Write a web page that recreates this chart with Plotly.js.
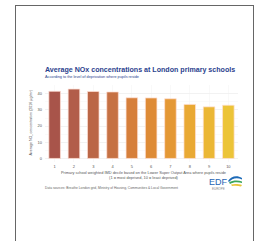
<!DOCTYPE html>
<html><head><meta charset="utf-8">
<script src="https://cdn.plot.ly/plotly-3.0.1.min.js"></script>
<style>
html,body{margin:0;padding:0;background:#fff;overflow:hidden;}
#frame{position:absolute;left:15px;top:5px;width:239px;height:260px;border:1px solid #666;box-sizing:border-box;pointer-events:none;z-index:5;}
#chart{position:absolute;left:0;top:0;width:258px;height:241px;}
#logo{position:absolute;left:227px;top:175px;z-index:4;}
</style></head>
<body>
<div id="chart"></div>
<div id="frame"></div>
<svg id="logo" width="16" height="13" viewBox="0 0 16 13">
  <path d="M1 6 C4 1,10 0,15 3 L15 4.5 C10 2,5 3,2 7 Z" fill="#1e6bb8"/>
  <path d="M2 7.5 C6 5,11 5,15 6.5 L15 8 C11 7,6 7,3 9 Z" fill="#3aa65a"/>
  <path d="M4 9.5 C8 8.5,12 9,15 10 L14 11.5 C11 10.5,8 10.5,5 11 Z" fill="#e8c43a"/>
</svg>
<script>
const deciles = ["1","2","3","4","5","6","7","8","9","10"];
const no2Values = [41.5, 42.9, 41.4, 41.1, 37.5, 37.4, 36.9, 33.4, 31.9, 32.9];
const barColors = ["#a8544a","#b25d4a","#bb6646","#c67143","#d67f3b","#de8b36","#e49835","#e9a934","#ebb735","#ecc438"];
const yTicks = [0, 10, 20, 30, 40];

const fontFam = "Liberation Sans, Arial, sans-serif";
const plotL = 45, plotR = 238.4, plotT = 85, plotB = 162.2;
const px = p => (p - plotL) / (plotR - plotL);
const py = p => (plotB - p) / (plotB - plotT);

const trace = {
  type: "bar",
  x: deciles,
  y: no2Values,
  marker: {color: barColors, line: {color: "rgba(255,225,215,0.9)", width: 0.8}},
  hoverinfo: "skip"
};

const layout = {
  width: 258, height: 241,
  margin: {l: plotL, r: 258 - plotR, t: plotT, b: 241 - plotB},
  paper_bgcolor: "#fff", plot_bgcolor: "#fff",
  showlegend: false,
  bargap: 0.4,
  font: {family: fontFam, color: "#555", size: 4},
  xaxis: {
    type: "category", showgrid: true, gridcolor: "#f4f4f4", gridwidth: 0.5,
    zeroline: false, showline: false, ticks: "",
    tickfont: {size: 4, color: "#555"}, ticklabelstandoff: 1
  },
  yaxis: {
    range: [-2.2, 45.4], tickvals: yTicks, ticktext: yTicks.map(String),
    showgrid: true, gridcolor: "#ececec", gridwidth: 0.6, zeroline: false,
    showline: false, ticks: "", tickfont: {size: 4, color: "#555"},
    ticklabelstandoff: 2,
    minor: {dtick: 5, tick0: 5, showgrid: true, gridcolor: "#f6f6f6", gridwidth: 0.5}
  },
  annotations: [
    {text: "<b>Average NOx concentrations at London primary schools</b>", xref: "paper", yref: "paper",
     x: px(43), y: py(70), xanchor: "left", yanchor: "middle", showarrow: false,
     font: {size: 7.1, color: "#2b3f8e", family: fontFam}},
    {text: "According to the level of deprivation where pupils reside", xref: "paper", yref: "paper",
     x: px(43), y: py(77.3), xanchor: "left", yanchor: "middle", showarrow: false,
     font: {size: 3.8, color: "#2b3f8e", family: fontFam}},
    {text: "Average NO<sub>x</sub> concentration (2016 µg/m<sup>3</sup>)", xref: "paper", yref: "paper",
     x: px(31.5), y: py(123), xanchor: "center", yanchor: "middle", textangle: -90, showarrow: false,
     font: {size: 3.6, color: "#555", family: fontFam}},
    {text: "Primary school weighted IMD decile based on the Lower Super Output Area where pupils reside<br>(1 = most deprived, 10 = least deprived)",
     xref: "paper", yref: "paper", x: px(144), y: py(175.5), xanchor: "center", yanchor: "middle", showarrow: false,
     font: {size: 3.9, color: "#555", family: fontFam}},
    {text: "Data sources: Breathe London grid, Ministry of Housing, Communities & Local Government", xref: "paper", yref: "paper",
     x: px(43), y: py(188.5), xanchor: "left", yanchor: "middle", showarrow: false,
     font: {size: 3.3, color: "#666", family: fontFam}},
    {text: "EDF", xref: "paper", yref: "paper",
     x: px(218.5), y: py(182), xanchor: "center", yanchor: "middle", showarrow: false,
     font: {size: 9, color: "#1e64b4", family: fontFam}},
    {text: "EUROPE", xref: "paper", yref: "paper",
     x: px(219), y: py(189.5), xanchor: "center", yanchor: "middle", showarrow: false,
     font: {size: 3, color: "#888", family: fontFam}}
  ]
};

Plotly.newPlot("chart", [trace], layout, {staticPlot: true, displayModeBar: false});
</script>
</body></html>
